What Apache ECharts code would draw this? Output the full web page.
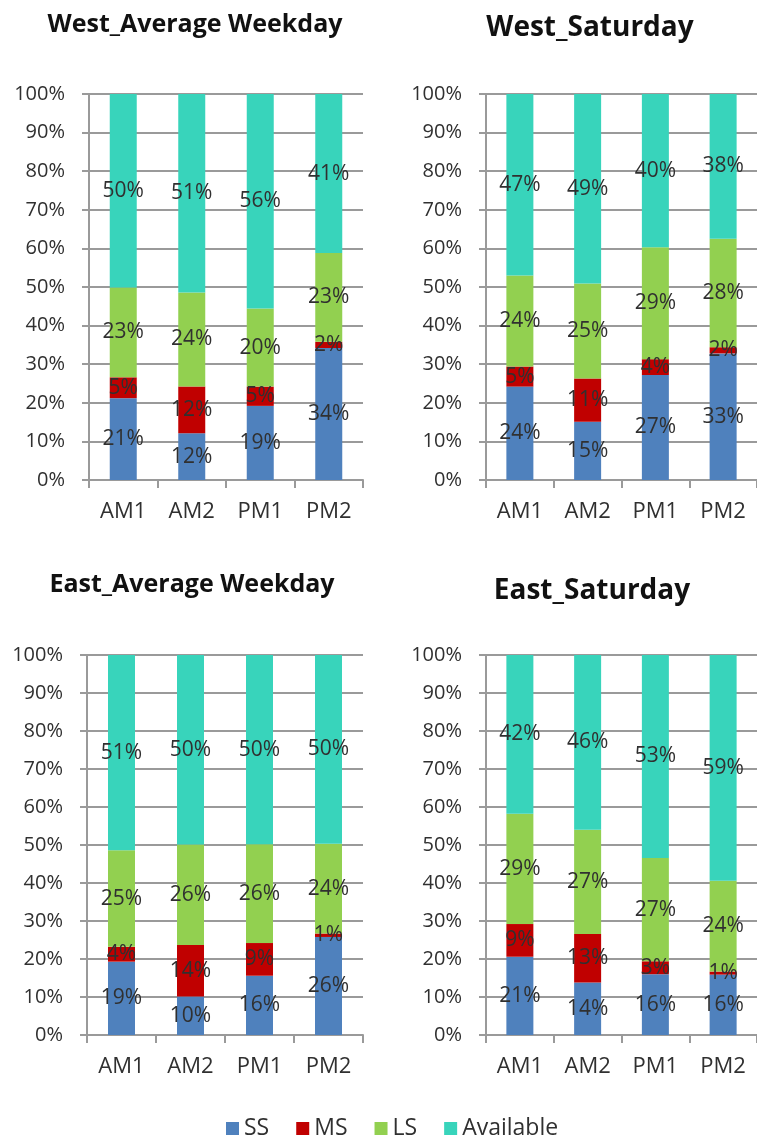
<!DOCTYPE html>
<html>
<head>
<meta charset="utf-8">
<script src="https://cdn.jsdelivr.net/npm/echarts@6/dist/echarts.min.js"></script>
<style>
  html, body { margin: 0; padding: 0; background: #fff; }
  #chart { width: 757px; height: 1135px; }
</style>
</head>
<body>
<div id="chart"></div>
<script>
// Time periods shown on every panel
const periods = ['AM1', 'AM2', 'PM1', 'PM2'];
const seriesNames = ['SS', 'MS', 'LS', 'Available'];
const panelTitles = ['West_Average Weekday', 'West_Saturday', 'East_Average Weekday', 'East_Saturday'];
const yTicks = [0, 10, 20, 30, 40, 50, 60, 70, 80, 90, 100];

// Share of spaces (%) per period, one array per category and panel
const westWeekdaySS        = [21.2, 12.1, 19.2, 34.2];
const westWeekdayMS        = [5.4, 12.1, 5.0, 1.6];
const westWeekdayLS        = [23.3, 24.4, 20.2, 23.0];
const westWeekdayAvailable = [50.1, 51.4, 55.6, 41.2];

const westSaturdaySS        = [24.2, 15.1, 27.2, 32.8];
const westSaturdayMS        = [5.2, 11.2, 4.1, 1.6];
const westSaturdayLS        = [23.6, 24.6, 29.0, 28.1];
const westSaturdayAvailable = [47.0, 49.1, 39.7, 37.5];

const eastWeekdaySS        = [19.3, 10.1, 15.6, 25.8];
const eastWeekdayMS        = [3.9, 13.6, 8.6, 0.9];
const eastWeekdayLS        = [25.4, 26.4, 26.0, 23.6];
const eastWeekdayAvailable = [51.4, 49.9, 49.8, 49.7];

const eastSaturdaySS        = [20.6, 13.8, 16.0, 15.9];
const eastSaturdayMS        = [8.6, 12.8, 3.4, 0.8];
const eastSaturdayLS        = [29.0, 27.4, 27.2, 23.9];
const eastSaturdayAvailable = [41.8, 46.0, 53.4, 59.4];

const panelData = [
  [westWeekdaySS, westWeekdayMS, westWeekdayLS, westWeekdayAvailable],
  [westSaturdaySS, westSaturdayMS, westSaturdayLS, westSaturdayAvailable],
  [eastWeekdaySS, eastWeekdayMS, eastWeekdayLS, eastWeekdayAvailable],
  [eastSaturdaySS, eastSaturdayMS, eastSaturdayLS, eastSaturdayAvailable]
];

const colors = ['#4F81BD', '#C00000', '#92D050', '#38D4BB'];
const font = '"Open Sans", "Liberation Sans", sans-serif';
const gridColor = '#9a9a9a';
const textColor = '#303030';

// Panel frames and title placement
const grids = [
  { left: 89,  top: 94,  width: 274, height: 386 },
  { left: 486, top: 94,  width: 273, height: 386 },
  { left: 87,  top: 655, width: 276, height: 380 },
  { left: 486, top: 655, width: 273, height: 380 }
];
const titleSpots = [
  { x: 195, y: 25, size: 25 },
  { x: 590, y: 28, size: 28 },
  { x: 192, y: 585, size: 25 },
  { x: 592, y: 591, size: 28 }
];

const xAxes = grids.map((g, i) => ({
  type: 'category',
  gridIndex: i,
  data: periods,
  axisLine: { show: true, lineStyle: { color: gridColor, width: 2 } },
  axisTick: { show: true, length: 8, lineStyle: { color: gridColor, width: 2 } },
  axisLabel: { color: textColor, fontSize: 22, fontFamily: font, margin: 21 }
}));

const yAxes = grids.map((g, i) => ({
  type: 'value',
  gridIndex: i,
  min: yTicks[0],
  max: yTicks[yTicks.length - 1],
  interval: yTicks[1] - yTicks[0],
  axisLine: { show: true, lineStyle: { color: gridColor, width: 2 } },
  axisTick: { show: true, length: 7, lineStyle: { color: gridColor, width: 2 } },
  splitLine: { show: true, lineStyle: { color: gridColor, width: 2 } },
  axisLabel: { color: textColor, fontSize: 20, fontFamily: font, margin: 24, formatter: '{value}%' }
}));

const series = [];
panelData.forEach((panel, p) => {
  panel.forEach((values, s) => {
    series.push({
      name: seriesNames[s],
      type: 'bar',
      xAxisIndex: p,
      yAxisIndex: p,
      stack: 'panel' + p,
      barWidth: 27,
      data: values,
      itemStyle: { color: colors[s] },
      label: {
        show: true,
        position: 'inside',
        color: textColor,
        fontSize: 21,
        fontFamily: font,
        formatter: (d) => Math.round(d.value) + '%'
      },
      emphasis: { disabled: true }
    });
  });
});

const titleTexts = panelTitles.map((t, i) => ({
  type: 'text',
  x: titleSpots[i].x,
  y: titleSpots[i].y,
  style: {
    text: t,
    fill: '#111',
    font: 'bold ' + titleSpots[i].size + 'px ' + font,
    textAlign: 'center',
    textVerticalAlign: 'middle'
  }
}));

const chart = echarts.init(document.getElementById('chart'), null, { renderer: 'canvas' });
chart.setOption({
  animation: false,
  backgroundColor: '#fff',
  grid: grids,
  xAxis: xAxes,
  yAxis: yAxes,
  series: series,
  graphic: titleTexts,
  legend: {
    data: seriesNames,
    left: 221,
    top: 1112,
    icon: 'rect',
    itemWidth: 13,
    itemHeight: 13,
    itemGap: 27,
    textStyle: { color: textColor, fontSize: 23, fontFamily: font }
  }
});
</script>
</body>
</html>
